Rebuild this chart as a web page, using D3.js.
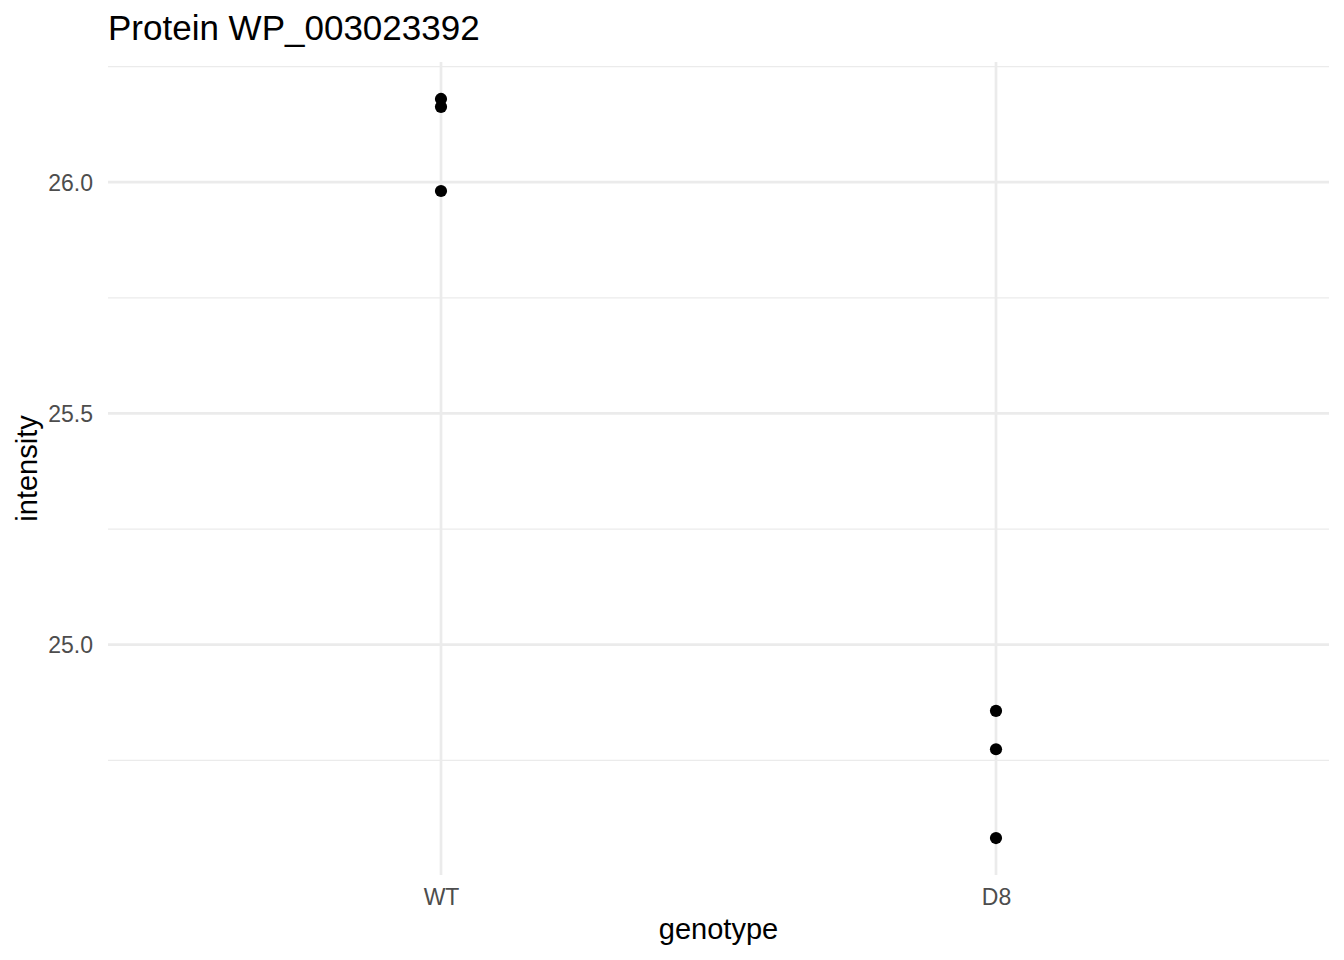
<!DOCTYPE html>
<html><head><meta charset="utf-8">
<script src="https://cdn.jsdelivr.net/npm/d3@7"></script>
<style>body{margin:0;background:#fff;} text{font-family:"Liberation Sans",Arial,sans-serif;}</style>
</head><body>
<svg id="c" width="1344" height="960"></svg>
<script>
const categories = ["WT", "D8"];
const wtValues = [26.180, 26.163, 25.981];
const d8Values = [24.857, 24.774, 24.582];
const yTicks = [25.0, 25.5, 26.0];
const yMinor = [24.75, 25.25, 25.75, 26.25];
const title = "Protein WP_003023392";

const points = [];
wtValues.forEach(v => points.push({g: "WT", v}));
d8Values.forEach(v => points.push({g: "D8", v}));

const svg = d3.select("#c");
const L = 108, R = 1329, T = 62, B = 875;
const all = points.map(p => p.v);
const lo = d3.min(all), hi = d3.max(all), pad = (hi - lo) * 0.05;
const y = d3.scaleLinear().domain([lo - pad, hi + pad]).range([B, T]);
const x = d3.scalePoint().domain(categories).range([L, R]).padding(0.6);

// minor grid
svg.append("g").selectAll("line").data(yMinor.filter(d => d >= y.domain()[0] && d <= y.domain()[1])).join("line")
  .attr("x1", L).attr("x2", R).attr("y1", d => y(d)).attr("y2", d => y(d))
  .attr("stroke", "#ebebeb").attr("stroke-width", 1.4);
// major grid y
svg.append("g").selectAll("line").data(yTicks).join("line")
  .attr("x1", L).attr("x2", R).attr("y1", d => y(d)).attr("y2", d => y(d))
  .attr("stroke", "#ebebeb").attr("stroke-width", 2.7);
// major grid x
svg.append("g").selectAll("line").data(categories).join("line")
  .attr("x1", d => x(d)).attr("x2", d => x(d)).attr("y1", T).attr("y2", B)
  .attr("stroke", "#ebebeb").attr("stroke-width", 2.7);

// axes
const yAxis = d3.axisLeft(y).tickValues(yTicks).tickFormat(d3.format(".1f")).tickSize(0).tickPadding(0);
const gy = svg.append("g").attr("transform", `translate(${L - 15},0)`).call(yAxis);
gy.select(".domain").remove();
gy.selectAll("text").attr("fill", "#4d4d4d").style("font-size", "23px").attr("dy", "0.35em");

const xAxis = d3.axisBottom(x).tickSize(0).tickPadding(0);
const gx = svg.append("g").attr("transform", `translate(0,${B + 14})`).call(xAxis);
gx.select(".domain").remove();
gx.selectAll("text").attr("fill", "#4d4d4d").style("font-size", "23px").attr("dy", "0.71em");

// points
svg.append("g").selectAll("circle").data(points).join("circle")
  .attr("cx", d => x(d.g)).attr("cy", d => y(d.v)).attr("r", 6.1).attr("fill", "#000");

// titles
svg.append("text").attr("x", L).attr("y", 40).text(title).style("font-size", "35px").attr("fill", "#000");
svg.append("text").attr("x", (L + R) / 2).attr("y", 939).attr("text-anchor", "middle").text("genotype").style("font-size", "29px").attr("fill", "#000");
svg.append("text").attr("transform", `translate(37,${(T + B) / 2}) rotate(-90)`).attr("text-anchor", "middle").text("intensity").style("font-size", "29px").attr("fill", "#000");
</script>
</body></html>
